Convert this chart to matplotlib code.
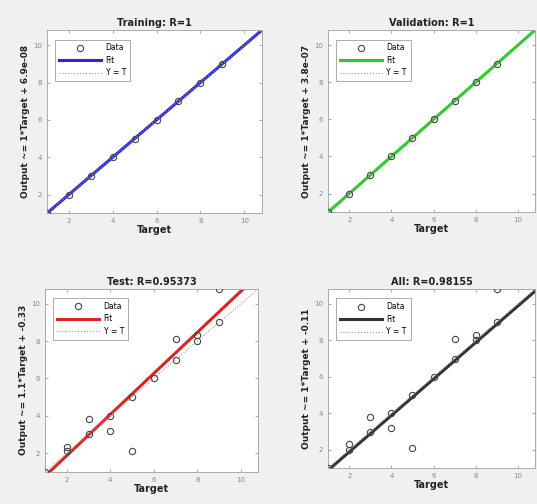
import matplotlib
matplotlib.use("Agg")
import matplotlib.pyplot as plt
import numpy as np

titles = ["Training: R=1", "Validation: R=1", "Test: R=0.95373", "All: R=0.98155"]
ylabels = ["Output ~= 1*Target + 6.9e-08", "Output ~= 1*Target + 3.8e-07",
           "Output ~= 1.1*Target + -0.33", "Output ~= 1*Target + -0.11"]
slopes = [1.0, 1.0, 1.1, 1.0]
intercepts = [6.9e-08, 3.8e-07, -0.33, -0.11]
colors = ["#2828d8", "#28cc28", "#dd2424", "#333333"]

train_t = [1, 2, 3, 4, 5, 6, 7, 8, 9]
train_o = [1, 2, 3, 4, 5, 6, 7, 8, 9]
val_t = [1, 2, 3, 4, 5, 6, 7, 8, 9]
val_o = [1, 2, 3, 4, 5, 6, 7, 8, 9]
test_t = [1, 2, 2, 3, 3, 4, 4, 5, 5, 6, 7, 7, 8, 8, 9, 9]
test_o = [1, 2.3, 2.1, 3.8, 3.0, 4.0, 3.2, 2.1, 5.0, 6.0, 8.1, 7.0, 8.3, 8.0, 9.0, 10.8]
all_t = [1, 2, 2, 3, 3, 4, 4, 5, 5, 6, 7, 7, 8, 8, 9, 9]
all_o = [1, 2.3, 2.0, 3.8, 3.0, 4.0, 3.2, 2.1, 5.0, 6.0, 8.1, 7.0, 8.3, 8.0, 9.0, 10.8]
targets = [train_t, val_t, test_t, all_t]
outputs = [train_o, val_o, test_o, all_o]

lim = (1, 10.8)
ticks = [2, 4, 6, 8, 10]

fig = plt.figure(figsize=(5.37, 5.04), dpi=100, facecolor="#f0f0f0")
positions = [
    [0.0875, 0.577, 0.400, 0.363],
    [0.611, 0.579, 0.385, 0.361],
    [0.084, 0.064, 0.397, 0.363],
    [0.611, 0.071, 0.385, 0.355],
]

for i in range(4):
    ax = fig.add_axes(positions[i])
    ax.set_facecolor("white")
    xs = np.array(lim)
    ax.plot(targets[i], outputs[i], "o", mfc="none", mec="#444444", ms=4.5, mew=0.8,
            label="Data", zorder=3)
    ax.plot(xs, slopes[i] * xs + intercepts[i], color=colors[i], lw=2.2, label="Fit", zorder=2)
    ax.plot(xs, xs, ":", color="#999999", lw=0.8, label="Y = T", zorder=4)
    ax.set_xlim(lim)
    ax.set_ylim(lim)
    ax.set_xticks(ticks)
    ax.set_yticks(ticks)
    ax.tick_params(labelsize=5, colors="#888888", length=2, width=0.5, direction="in",
                   top=True, right=True)
    for s in ax.spines.values():
        s.set_color("#aaaaaa")
        s.set_linewidth(0.7)
    ax.set_title(titles[i], fontsize=7, fontweight="bold", pad=3, color="#222222")
    ax.set_xlabel("Target", fontsize=7, fontweight="bold", labelpad=1, color="#222222")
    ax.set_ylabel(ylabels[i], fontsize=6.5, fontweight="bold", labelpad=2, color="#222222")
    leg = ax.legend(loc="upper left", fontsize=5.5, frameon=True, fancybox=False,
                    edgecolor="#888888", borderpad=0.5, handlelength=5.5, labelspacing=0.45,
                    handletextpad=0.6, numpoints=1, bbox_to_anchor=(0.02, 0.97))
    leg.get_frame().set_linewidth(0.6)

fig.savefig("out.png", dpi=100, facecolor=fig.get_facecolor())
